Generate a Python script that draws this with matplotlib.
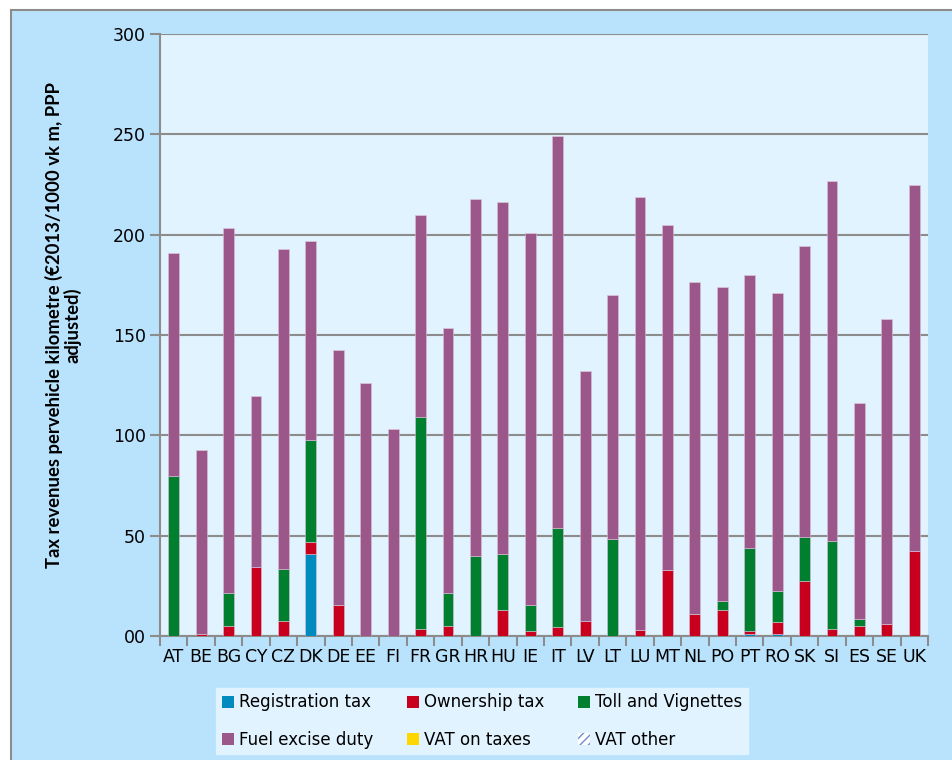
import matplotlib
matplotlib.use("Agg")
import matplotlib.pyplot as plt
from matplotlib.patches import Rectangle, Patch
import numpy as np

countries = ["AT", "BE", "BG", "CY", "CZ", "DK", "DE", "EE", "FI", "FR", "GR", "HR", "HU", "IE",
             "IT", "LV", "LT", "LU", "MT", "NL", "PO", "PT", "RO", "SK", "SI", "ES", "SE", "UK"]

registration = [0, 0, 0, 0, 0, 40.7, 0, 0, 0, 0, 0, 0, 0, 0,
                0, 0, 0, 0, 0, 0, 0, 0.8, 1.2, 0, 0, 0, 0, 0]
ownership = [0, 1.2, 5.1, 34.5, 7.6, 6.0, 15.4, 0, 0, 3.3, 5.1, 0, 13.0, 2.5,
             4.3, 7.6, 0, 3.2, 32.9, 11.1, 13.0, 1.5, 5.6, 27.6, 3.3, 5.1, 5.8, 42.4]
toll = [79.7, 0, 16.5, 0, 25.9, 51.1, 0, 0, 0, 106.0, 16.5, 39.9, 27.7, 12.9,
        49.4, 0, 48.5, 0, 0, 0, 4.3, 41.7, 15.6, 21.7, 44.2, 3.4, 0, 0]
fuel = [111.1, 91.5, 181.7, 85.1, 159.4, 99.0, 127.1, 125.9, 103.1, 100.5, 131.9, 177.9, 175.4, 185.3,
        195.6, 124.4, 121.5, 215.6, 171.9, 165.1, 156.5, 135.7, 148.5, 145.0, 179.1, 107.8, 152.2, 182.3]
vat_taxes = [0] * len(countries)
vat_other = [0] * len(countries)

yticks = [0, 50, 100, 150, 200, 250, 300]
ytick_labels = ["00", "50", "100", "150", "200", "250", "300"]

c_reg = "#008BBF"
c_own = "#C8001E"
c_toll = "#007F2F"
c_fuel = "#9B578A"
c_vat = "#FFD700"
panel_bg = "#B9E3FD"
plot_bg = "#E1F3FE"
grid_c = "#8C8C8C"

plt.rcParams["font.family"] = ["DejaVu Sans"]

fig = plt.figure(figsize=(9.53, 7.6), dpi=100)
fig.patch.set_facecolor("white")
# light blue chart panel behind everything
fig.patches.append(Rectangle((11 / 953, -0.01), 1.0, 1 - 10 / 760 + 0.01, transform=fig.transFigure,
                             facecolor=panel_bg, edgecolor="#8C8C8C", linewidth=1.5, zorder=-5))

ax = fig.add_axes([160 / 953, 1 - 636 / 760, 768 / 953, 602 / 760])
ax.set_facecolor(plot_bg)

x = np.arange(len(countries))
w = 0.4
bottom = np.zeros(len(countries))
series = [
    (registration, c_reg, "Registration tax"),
    (ownership, c_own, "Ownership tax"),
    (toll, c_toll, "Toll and Vignettes"),
    (fuel, c_fuel, "Fuel excise duty"),
    (vat_taxes, c_vat, "VAT on taxes"),
]
for vals, col, lab in series:
    vals = np.array(vals, dtype=float)
    ax.bar(x, vals, w, bottom=bottom, color=col, edgecolor="#D9C2D9", linewidth=0.4, zorder=3)
    bottom += vals
ax.bar(x, vat_other, w, bottom=bottom, facecolor="white", hatch="////", edgecolor="#6A8FC8",
       linewidth=0, zorder=3)

ax.set_xlim(-0.5, len(countries) - 0.5)
ax.set_ylim(0, 300)
ax.set_yticks(yticks)
ax.set_yticklabels(ytick_labels)
ax.yaxis.grid(True, color=grid_c, linewidth=1.5, zorder=1)
ax.set_axisbelow(True)

ax.set_xticks(x)
ax.set_xticklabels(countries)
ax.set_xticks(np.arange(-0.5, len(countries)), minor=True)
ax.tick_params(axis="x", which="major", length=0, pad=9, labelsize=12.5)
ax.tick_params(axis="x", which="minor", length=7, width=1.5, color=grid_c, direction="out")
ax.tick_params(axis="y", length=7, width=1.5, color=grid_c, direction="out", pad=3, labelsize=12.5)

for s in ["top", "right"]:
    ax.spines[s].set_visible(False)
for s in ["left", "bottom"]:
    ax.spines[s].set_color(grid_c)
    ax.spines[s].set_linewidth(1.5)

fig.text(63 / 953, 1 - 325 / 760,
         "Tax revenues pervehicle kilometre (€2013/1000 vk m, PPP\nadjusted)",
         rotation=90, ha="center", va="center", fontsize=13.3, fontweight="bold",
         family=["Lato", "DejaVu Sans"], linespacing=1.05)

handles = [
    Patch(facecolor=c_reg), Patch(facecolor=c_fuel),
    Patch(facecolor=c_own), Patch(facecolor=c_vat),
    Patch(facecolor=c_toll), Patch(facecolor="white", hatch="////", edgecolor="#6A8FC8", linewidth=0),
]
labels = ["Registration tax", "Fuel excise duty", "Ownership tax", "VAT on taxes",
          "Toll and Vignettes", "VAT other"]
leg = fig.legend(handles, labels, ncol=3, loc="center", bbox_to_anchor=(482 / 953, 1 - 721 / 760),
                 frameon=True, fancybox=False, facecolor=plot_bg, edgecolor=plot_bg, framealpha=1,
                 fontsize=12, handlelength=0.72, handleheight=0.72, handletextpad=0.3,
                 columnspacing=2.0, labelspacing=1.15, borderpad=0.35)

fig.savefig("out.png", dpi=100, facecolor=fig.get_facecolor())
